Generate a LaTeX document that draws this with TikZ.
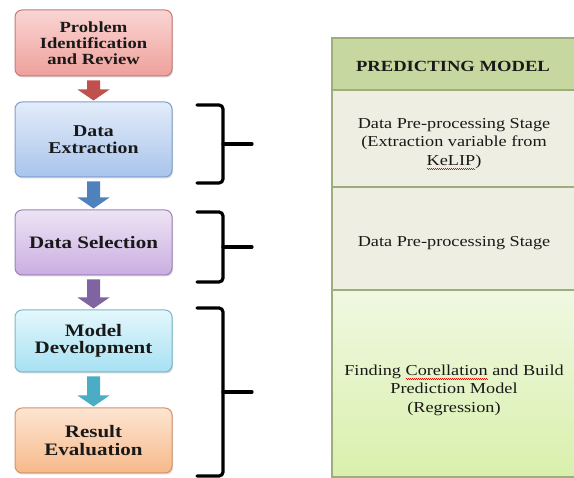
\documentclass[tikz,border=0pt]{standalone}
\usepackage{fontspec}
\setmainfont{Liberation Serif}[FakeStretch=1.2]
\usetikzlibrary{calc,shadows}
\definecolor{pinktop}{HTML}{F9D5D3}\definecolor{pinkbot}{HTML}{EFA09B}\definecolor{pinkline}{HTML}{C97A76}
\definecolor{bluetop}{HTML}{E3ECF9}\definecolor{bluebot}{HTML}{A9C4EC}\definecolor{blueline}{HTML}{7F9FCF}
\definecolor{lilactop}{HTML}{EEE4F5}\definecolor{lilacbot}{HTML}{C9AEE0}\definecolor{lilacline}{HTML}{9E82BE}
\definecolor{cyantop}{HTML}{E4F7FC}\definecolor{cyanbot}{HTML}{A6E1F3}\definecolor{cyanline}{HTML}{78B9CE}
\definecolor{peachtop}{HTML}{FDE5D2}\definecolor{peachbot}{HTML}{F6B98A}\definecolor{peachline}{HTML}{D49467}
\definecolor{arrred}{HTML}{C0504D}\definecolor{arrblue}{HTML}{4F81BD}
\definecolor{arrlilac}{HTML}{8064A2}\definecolor{arrcyan}{HTML}{4BACC6}
\definecolor{hdgreen}{HTML}{C6D89F}\definecolor{rowbeige}{HTML}{EEEEE2}
\definecolor{regtop}{HTML}{F0F8E2}\definecolor{regbot}{HTML}{D9F0AC}
\definecolor{cellline}{HTML}{9DAE7C}
\newsavebox{\wavebox}
\newcommand{\spellwave}[1]{\sbox{\wavebox}{#1}\rlap{\color{red}\hbox to \wd\wavebox{\leaders\hbox{\rule[-3.6pt]{1pt}{0.7pt}\rule[-4.4pt]{1pt}{0.7pt}}\hfill}}\usebox{\wavebox}}
\newcommand{\flowarrow}[3]{
  \fill[#3] let \p1=(#1.south), \p2=(#2.north) in
    (\x1-6.5pt,\y1-4pt) -- (\x1+6.5pt,\y1-4pt) -- (\x1+6.5pt,\y2+12pt) -- (\x1+16pt,\y2+12pt)
    -- (\x2,\y2+1pt) -- (\x1-16pt,\y2+12pt) -- (\x1-6.5pt,\y2+12pt) -- cycle;
}
\newcommand{\stagebrace}[2]{
  \draw[brace] (197,#1) -- (223,#1) -- (223,#2) -- (197,#2);
  \draw[brace] (223,{(#1+#2)/2}) -- (252,{(#1+#2)/2});
}
\tikzset{
  /tikz/.cd,
  stage/.style 2 args={draw,line width=1pt,rounded corners=7pt,minimum width=157pt,inner sep=0pt,
    align=center,text=black!90,font=\bfseries\fontsize{#1}{#2}\selectfont,
    drop shadow={shadow xshift=1pt,shadow yshift=-1.5pt,opacity=.3}},
  brace/.style={line width=3.2pt,line cap=round,rounded corners=4pt},
  cell/.style={draw=cellline,line width=2pt},
  celltext/.style={align=center,text=black!90,font=\fontsize{15.2}{18.5}\selectfont}
}
\begin{document}
\begin{tikzpicture}[x=1pt,y=-1pt]
  \useasboundingbox (0,0) rectangle (574,478);
  \clip (0,0) rectangle (574,478);

  \node[stage={15.5}{16},top color=pinktop,bottom color=pinkbot,draw=pinkline,minimum height=66pt]
    (problem) at (93.5,43) {Problem\\Identification\\and Review};
  \node[stage={16.5}{16.5},top color=bluetop,bottom color=bluebot,draw=blueline,minimum height=75pt]
    (extraction) at (93.5,139.5) {Data\\Extraction};
  \node[stage={17.5}{18},top color=lilactop,bottom color=lilacbot,draw=lilacline,minimum height=65pt]
    (selection) at (93.5,242.5) {Data Selection};
  \node[stage={17.5}{17.5},top color=cyantop,bottom color=cyanbot,draw=cyanline,minimum height=62pt]
    (development) at (93.5,341) {Model\\Development};
  \node[stage={17.5}{18},top color=peachtop,bottom color=peachbot,draw=peachline,minimum height=65pt]
    (evaluation) at (93.5,440.5) {Result\\Evaluation};

  \flowarrow{problem}{extraction}{arrred}
  \flowarrow{extraction}{selection}{arrblue}
  \flowarrow{selection}{development}{arrlilac}
  \flowarrow{development}{evaluation}{arrcyan}

  \stagebrace{105}{183}
  \stagebrace{212}{282}
  \stagebrace{308}{476}

  \draw[cell,fill=hdgreen] (332,38) rectangle (590,90);
  \draw[cell,fill=rowbeige] (332,90) rectangle (590,187);
  \draw[cell,fill=rowbeige] (332,187) rectangle (590,290);
  \draw[cell,top color=regtop,bottom color=regbot] (332,290) rectangle (590,477);

  \node[celltext,font=\bfseries\fontsize{15.5}{17}\selectfont] (header) at (453,66) {PREDICTING MODEL};
  \node[celltext] (preproc) at (454,144) {Data Pre-processing Stage\\(Extraction variable from\\\spellwave{KeLIP})};
  \node[celltext] (select) at (454,243) {Data Pre-processing Stage};
  \node[celltext] (regression) at (454,390) {Finding \spellwave{Corellation} and Build\\Prediction Model\\(Regression)};
\end{tikzpicture}
\end{document}
